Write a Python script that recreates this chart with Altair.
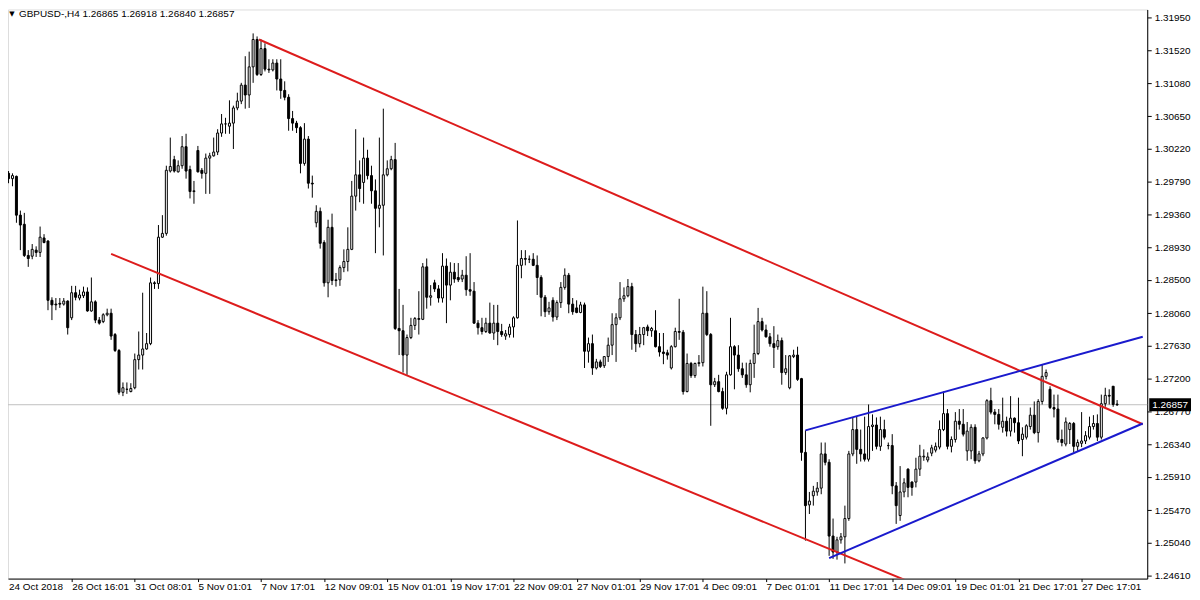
import altair as alt
import pandas as pd

# ---------------- data (GBPUSD H4) ----------------
opens = [
    1.2990, 1.2983, 1.2986, 1.2935, 1.2923, 1.2882, 1.2881, 1.2889, 1.2886, 1.2905,
    1.2901, 1.2823, 1.2818, 1.2819, 1.2818, 1.2822, 1.2800, 1.2833, 1.2826, 1.2829,
    1.2834, 1.2809, 1.2821, 1.2797, 1.2795, 1.2804, 1.2806, 1.2778, 1.2757, 1.2702,
    1.2706, 1.2703, 1.2708, 1.2745, 1.2751, 1.2759, 1.2766, 1.2846, 1.2845, 1.2906,
    1.2911, 1.2993, 1.3008, 1.2992, 1.3000, 1.3025, 1.2995, 1.2966, 1.3020, 1.2994,
    1.2990, 1.3010, 1.3013, 1.3018, 1.3043, 1.3055, 1.3052, 1.3056, 1.3076, 1.3085,
    1.3106, 1.3093, 1.3130, 1.3166, 1.3120, 1.3154, 1.3127, 1.3126, 1.3135, 1.3114,
    1.3099, 1.3090, 1.3062, 1.3056, 1.3050, 1.3003, 1.3035, 1.2977, 1.2925, 1.2940,
    1.2899, 1.2846, 1.2919, 1.2849, 1.2850, 1.2866, 1.2874, 1.2890, 1.2960, 1.2988,
    1.2978, 1.3010, 1.2987, 1.2967, 1.2944, 1.2948, 1.2988, 1.2996, 1.3008, 1.2786,
    1.2783, 1.2751, 1.2774, 1.2790, 1.2799, 1.2798, 1.2867, 1.2827, 1.2846, 1.2838,
    1.2826, 1.2868, 1.2843, 1.2860, 1.2853, 1.2851, 1.2856, 1.2837, 1.2835, 1.2793,
    1.2787, 1.2782, 1.2793, 1.2780, 1.2793, 1.2782, 1.2776, 1.2778, 1.2788, 1.2800,
    1.2869, 1.2878, 1.2877, 1.2877, 1.2869, 1.2853, 1.2827, 1.2808, 1.2823, 1.2801,
    1.2820, 1.2840, 1.2856, 1.2818, 1.2813, 1.2807, 1.2817, 1.2756, 1.2766, 1.2734,
    1.2742, 1.2737, 1.2749, 1.2764, 1.2791, 1.2800, 1.2825, 1.2829, 1.2841, 1.2778,
    1.2766, 1.2778, 1.2788, 1.2783, 1.2783, 1.2762, 1.2755, 1.2754, 1.2734, 1.2762,
    1.2782, 1.2781, 1.2703, 1.2740, 1.2724, 1.2740, 1.2741, 1.2806, 1.2778, 1.2712,
    1.2716, 1.2703, 1.2681, 1.2725, 1.2762, 1.2751, 1.2733, 1.2725, 1.2712, 1.2740,
    1.2753, 1.2795, 1.2784, 1.2775, 1.2766, 1.2762, 1.2770, 1.2728, 1.2708, 1.2749,
    1.2751, 1.2720, 1.2623, 1.2554, 1.2566, 1.2571, 1.2576, 1.2621, 1.2610, 1.2513,
    1.2492, 1.2508, 1.2512, 1.2536, 1.2621, 1.2653, 1.2627, 1.2621, 1.2614, 1.2657,
    1.2659, 1.2631, 1.2653, 1.2632, 1.2632, 1.2579, 1.2540, 1.2571, 1.2601, 1.2584,
    1.2584, 1.2601, 1.2617, 1.2613, 1.2622, 1.2626, 1.2630, 1.2653, 1.2674, 1.2631,
    1.2640, 1.2664, 1.2660, 1.2625, 1.2625, 1.2656, 1.2612, 1.2621, 1.2642, 1.2691,
    1.2676, 1.2673, 1.2656, 1.2664, 1.2651, 1.2668, 1.2662, 1.2640, 1.2643, 1.2657,
    1.2672, 1.2649, 1.2690, 1.2723, 1.2706, 1.2682, 1.2680, 1.2640, 1.2634, 1.2653,
    1.2661, 1.2631, 1.2635, 1.2638, 1.2643, 1.2657, 1.2661, 1.2643, 1.2687, 1.2698,
    1.2710, 1.26865,
]
highs = [
    1.2993, 1.2990, 1.2987, 1.2941, 1.2938, 1.2889, 1.2897, 1.2894, 1.2920, 1.2910,
    1.2902, 1.2827, 1.2826, 1.2826, 1.2826, 1.2823, 1.2842, 1.2842, 1.2837, 1.2841,
    1.2840, 1.2853, 1.2823, 1.2801, 1.2806, 1.2812, 1.2812, 1.2780, 1.2759, 1.2715,
    1.2715, 1.2714, 1.2753, 1.2782, 1.2833, 1.2780, 1.2853, 1.2848, 1.2922, 1.2935,
    1.3000, 1.3037, 1.3013, 1.3007, 1.3039, 1.3042, 1.3000, 1.2980, 1.3026, 1.2997,
    1.3016, 1.3017, 1.3037, 1.3048, 1.3068, 1.3063, 1.3086, 1.3079, 1.3096, 1.3109,
    1.3144, 1.3150, 1.3174, 1.3170, 1.3166, 1.3161, 1.3140, 1.3140, 1.3140, 1.3140,
    1.3111, 1.3094, 1.3072, 1.3059, 1.3052, 1.3056, 1.3039, 1.2987, 1.2948, 1.2945,
    1.2902, 1.2929, 1.2937, 1.2859, 1.2869, 1.2890, 1.2919, 1.2980, 1.3048, 1.3007,
    1.3037, 1.3021, 1.3000, 1.2982, 1.3037, 1.3075, 1.3007, 1.3013, 1.3030, 1.2838,
    1.2817, 1.2778, 1.2800, 1.2801, 1.2835, 1.2872, 1.2878, 1.2843, 1.2850, 1.2843,
    1.2885, 1.2878, 1.2873, 1.2872, 1.2872, 1.2863, 1.2881, 1.2885, 1.2847, 1.2797,
    1.2800, 1.2800, 1.2820, 1.2817, 1.2817, 1.2792, 1.2784, 1.2792, 1.2802, 1.2928,
    1.2889, 1.2889, 1.2882, 1.2885, 1.2882, 1.2856, 1.2830, 1.2821, 1.2827, 1.2823,
    1.2847, 1.2865, 1.2859, 1.2826, 1.2823, 1.2821, 1.2820, 1.2774, 1.2778, 1.2746,
    1.2745, 1.2749, 1.2774, 1.2806, 1.2806, 1.2847, 1.2840, 1.2851, 1.2846, 1.2784,
    1.2788, 1.2788, 1.2791, 1.2788, 1.2810, 1.2780, 1.2780, 1.2758, 1.2764, 1.2787,
    1.2825, 1.2784, 1.2753, 1.2742, 1.2741, 1.2751, 1.2841, 1.2835, 1.2780, 1.2721,
    1.2725, 1.2708, 1.2729, 1.2800, 1.2764, 1.2764, 1.2741, 1.2741, 1.2745, 1.2791,
    1.2813, 1.2800, 1.2791, 1.2780, 1.2789, 1.2778, 1.2774, 1.2751, 1.2751, 1.2758,
    1.2762, 1.2721, 1.2652, 1.2571, 1.2579, 1.2584, 1.2636, 1.2636, 1.2614, 1.2536,
    1.2512, 1.2517, 1.2553, 1.2625, 1.2669, 1.2670, 1.2653, 1.2670, 1.2686, 1.2673,
    1.2669, 1.2670, 1.2666, 1.2636, 1.2647, 1.2584, 1.2605, 1.2589, 1.2602, 1.2585,
    1.2616, 1.2633, 1.2627, 1.2623, 1.2633, 1.2636, 1.2665, 1.2703, 1.2680, 1.2644,
    1.2676, 1.2680, 1.2680, 1.2663, 1.2660, 1.2660, 1.2625, 1.2643, 1.2693, 1.2708,
    1.2680, 1.2680, 1.2695, 1.2670, 1.2697, 1.2669, 1.2695, 1.2656, 1.2660, 1.2682,
    1.2690, 1.2693, 1.2738, 1.2732, 1.2710, 1.2699, 1.2699, 1.2653, 1.2669, 1.2663,
    1.2663, 1.2640, 1.2676, 1.2651, 1.2670, 1.2672, 1.2673, 1.2699, 1.2708, 1.2706,
    1.2710, 1.26918,
]
lows = [
    1.2977, 1.2973, 1.2925, 1.2889, 1.2880, 1.2867, 1.2877, 1.2880, 1.2880, 1.2898,
    1.2810, 1.2797, 1.2810, 1.2813, 1.2816, 1.2778, 1.2797, 1.2823, 1.2823, 1.2826,
    1.2808, 1.2808, 1.2793, 1.2791, 1.2793, 1.2802, 1.2771, 1.2755, 1.2699, 1.2697,
    1.2700, 1.2702, 1.2706, 1.2732, 1.2732, 1.2758, 1.2764, 1.2838, 1.2838, 1.2905,
    1.2908, 1.2991, 1.2991, 1.2991, 1.2996, 1.2983, 1.2957, 1.2950, 1.2991, 1.2983,
    1.2963, 1.2963, 1.3012, 1.3014, 1.3038, 1.3042, 1.3042, 1.3022, 1.3073, 1.3081,
    1.3075, 1.3076, 1.3109, 1.3118, 1.3118, 1.3124, 1.3122, 1.3124, 1.3099, 1.3088,
    1.3086, 1.3046, 1.3046, 1.3043, 1.2990, 1.3000, 1.2970, 1.2958, 1.2919, 1.2891,
    1.2841, 1.2827, 1.2843, 1.2841, 1.2842, 1.2860, 1.2861, 1.2889, 1.2941, 1.2952,
    1.2950, 1.2982, 1.2950, 1.2885, 1.2919, 1.2882, 1.2986, 1.2994, 1.2784, 1.2751,
    1.2728, 1.2725, 1.2772, 1.2784, 1.2778, 1.2797, 1.2812, 1.2816, 1.2834, 1.2820,
    1.2820, 1.2793, 1.2823, 1.2846, 1.2847, 1.2847, 1.2829, 1.2829, 1.2792, 1.2778,
    1.2778, 1.2780, 1.2779, 1.2771, 1.2764, 1.2775, 1.2771, 1.2774, 1.2774, 1.2799,
    1.2852, 1.2869, 1.2872, 1.2868, 1.2830, 1.2802, 1.2801, 1.2804, 1.2795, 1.2797,
    1.2813, 1.2837, 1.2806, 1.2804, 1.2806, 1.2806, 1.2734, 1.2741, 1.2725, 1.2732,
    1.2734, 1.2734, 1.2742, 1.2751, 1.2742, 1.2797, 1.2821, 1.2827, 1.2758, 1.2755,
    1.2761, 1.2764, 1.2776, 1.2775, 1.2761, 1.2749, 1.2739, 1.2745, 1.2732, 1.2761,
    1.2771, 1.2699, 1.2702, 1.2721, 1.2721, 1.2736, 1.2736, 1.2776, 1.2658, 1.2709,
    1.2702, 1.2679, 1.2673, 1.2724, 1.2706, 1.2729, 1.2721, 1.2708, 1.2702, 1.2721,
    1.2751, 1.2782, 1.2774, 1.2762, 1.2734, 1.2758, 1.2712, 1.2725, 1.2706, 1.2747,
    1.2717, 1.2612, 1.2507, 1.2542, 1.2553, 1.2566, 1.2568, 1.2606, 1.2487, 1.2483,
    1.2482, 1.2503, 1.2477, 1.2533, 1.2618, 1.2608, 1.2611, 1.2611, 1.2611, 1.2625,
    1.2627, 1.2625, 1.2640, 1.2627, 1.2568, 1.2529, 1.2533, 1.2564, 1.2564, 1.2566,
    1.2577, 1.2592, 1.2612, 1.2610, 1.2618, 1.2623, 1.2627, 1.2651, 1.2627, 1.2623,
    1.2636, 1.2653, 1.2644, 1.2612, 1.2614, 1.2608, 1.2610, 1.2618, 1.2640, 1.2673,
    1.2660, 1.2653, 1.2649, 1.2644, 1.2644, 1.2649, 1.2634, 1.2618, 1.2640, 1.2653,
    1.2647, 1.2636, 1.2686, 1.2719, 1.2680, 1.2669, 1.2636, 1.2631, 1.2631, 1.2634,
    1.2623, 1.2625, 1.2630, 1.2634, 1.2640, 1.2653, 1.2638, 1.2640, 1.2683, 1.2686,
    1.2683, 1.26840,
]
closes = [
    1.2983, 1.2987, 1.2935, 1.2922, 1.2882, 1.2878, 1.2890, 1.2886, 1.2906, 1.2899,
    1.2823, 1.2817, 1.2817, 1.2818, 1.2822, 1.2787, 1.2833, 1.2827, 1.2830, 1.2834,
    1.2809, 1.2821, 1.2797, 1.2793, 1.2804, 1.2806, 1.2776, 1.2757, 1.2702, 1.2708,
    1.2706, 1.2707, 1.2745, 1.2751, 1.2759, 1.2766, 1.2846, 1.2845, 1.2906, 1.2911,
    1.2994, 1.2999, 1.2993, 1.3000, 1.3025, 1.2993, 1.2966, 1.2967, 1.2992, 1.2990,
    1.3010, 1.3013, 1.3018, 1.3043, 1.3055, 1.3055, 1.3056, 1.3076, 1.3085, 1.3106,
    1.3093, 1.3130, 1.3166, 1.3120, 1.3154, 1.3127, 1.3126, 1.3135, 1.3114, 1.3099,
    1.3090, 1.3062, 1.3056, 1.3050, 1.3003, 1.3035, 1.2977, 1.2976, 1.2940, 1.2898,
    1.2846, 1.2919, 1.2849, 1.2850, 1.2866, 1.2874, 1.2890, 1.2960, 1.2988, 1.2970,
    1.3010, 1.2987, 1.2967, 1.2944, 1.2948, 1.2988, 1.2996, 1.3008, 1.2786, 1.2783,
    1.2751, 1.2774, 1.2790, 1.2799, 1.2798, 1.2867, 1.2827, 1.2829, 1.2838, 1.2826,
    1.2868, 1.2843, 1.2860, 1.2851, 1.2850, 1.2856, 1.2837, 1.2835, 1.2793, 1.2787,
    1.2782, 1.2793, 1.2780, 1.2793, 1.2782, 1.2778, 1.2779, 1.2788, 1.2800, 1.2869,
    1.2878, 1.2877, 1.2877, 1.2869, 1.2853, 1.2827, 1.2808, 1.2813, 1.2801, 1.2820,
    1.2840, 1.2856, 1.2818, 1.2808, 1.2807, 1.2817, 1.2756, 1.2766, 1.2734, 1.2742,
    1.2736, 1.2749, 1.2764, 1.2791, 1.2800, 1.2825, 1.2829, 1.2841, 1.2778, 1.2766,
    1.2778, 1.2787, 1.2783, 1.2786, 1.2762, 1.2755, 1.2753, 1.2751, 1.2762, 1.2782,
    1.2781, 1.2703, 1.2740, 1.2724, 1.2740, 1.2741, 1.2806, 1.2778, 1.2712, 1.2716,
    1.2703, 1.2681, 1.2725, 1.2762, 1.2751, 1.2733, 1.2725, 1.2712, 1.2740, 1.2753,
    1.2795, 1.2784, 1.2775, 1.2766, 1.2761, 1.2770, 1.2728, 1.2733, 1.2750, 1.2751,
    1.2719, 1.2623, 1.2553, 1.2559, 1.2572, 1.2576, 1.2621, 1.2610, 1.2513, 1.2492,
    1.2508, 1.2512, 1.2536, 1.2621, 1.2653, 1.2627, 1.2621, 1.2614, 1.2657, 1.2659,
    1.2631, 1.2653, 1.2643, 1.2632, 1.2579, 1.2553, 1.2571, 1.2583, 1.2577, 1.2577,
    1.2601, 1.2618, 1.2618, 1.2617, 1.2629, 1.2631, 1.2653, 1.2674, 1.2631, 1.2640,
    1.2664, 1.2660, 1.2647, 1.2651, 1.2656, 1.2612, 1.2621, 1.2642, 1.2691, 1.2676,
    1.2673, 1.2660, 1.2664, 1.2651, 1.2668, 1.2662, 1.2638, 1.2647, 1.2658, 1.2672,
    1.2649, 1.2690, 1.2723, 1.2728, 1.2682, 1.2680, 1.2640, 1.2636, 1.2663, 1.2661,
    1.2631, 1.2636, 1.2638, 1.2645, 1.2657, 1.2661, 1.2643, 1.2687, 1.2698, 1.2697,
    1.2686, 1.26857,
]

label_bars = [0, 16, 32, 48, 64, 80, 96, 112, 128, 144, 160, 176, 192, 208, 224, 240, 256, 272]
date_labels = [
    "24 Oct 2018", "26 Oct 16:01", "31 Oct 08:01", "5 Nov 01:01", "7 Nov 17:01",
    "12 Nov 09:01", "15 Nov 01:01", "19 Nov 17:01", "22 Nov 09:01", "27 Nov 01:01",
    "29 Nov 17:01", "4 Dec 09:01", "7 Dec 01:01", "11 Dec 17:01", "14 Dec 09:01",
    "19 Dec 01:01", "21 Dec 17:01", "27 Dec 17:01",
]
price_ticks = [1.3195, 1.3152, 1.3108, 1.3065, 1.3022, 1.2979, 1.2936, 1.2893, 1.2850,
               1.2806, 1.2763, 1.2720, 1.2677, 1.2634, 1.2591, 1.2547, 1.2504, 1.2461]
last_price = 1.26857
header_text = "GBPUSD-,H4  1.26865 1.26918 1.26840 1.26857"

# trend lines (bar index, price)
line_names = ["red_upper", "red_upper", "red_lower", "red_lower",
              "blue_upper", "blue_upper", "blue_lower", "blue_lower"]
line_bars = [63.5, 287.5, 26, 240, 202, 287.5, 208, 287.5]
line_prices = [1.3166, 1.2660, 1.2884, 1.2428, 1.2652, 1.2775, 1.2484, 1.2661]

# ---------------- chart ----------------
FONT = "Tahoma, 'Liberation Sans', Arial, sans-serif"
W, H = 1145, 572

df = pd.DataFrame({"i": list(range(len(closes))), "open": opens, "high": highs,
                   "low": lows, "close": closes})
lines_df = pd.DataFrame({"line": line_names, "i": line_bars, "p": line_prices})

xs = alt.Scale(domain=[1.125, 287.375], nice=False, zero=False)
ys = alt.Scale(domain=[1.245706, 1.320547], nice=False, zero=False)

label_expr = "[" + ",".join("'%s'" % s for s in date_labels) + "][round(datum.value/16)]"

xaxis = alt.Axis(values=label_bars[1:], labelExpr=label_expr, title=None, grid=False,
                 tickCount=100, tickSize=3, tickColor="black", domainColor="black",
                 domainWidth=1, labelAlign="left", labelBaseline="top", labelPadding=0,
                 labelFont=FONT, labelFontSize=10, labelColor="black",
                 labelOverlap=False, labelFlush=False)
yaxis = alt.Axis(orient="right", values=price_ticks, format=".5f", title=None, grid=False,
                 tickCount=100, tickSize=4, tickColor="black", domainColor="black",
                 domainWidth=1, labelAlign="left", labelBaseline="middle", labelPadding=3,
                 labelFont=FONT, labelFontSize=10, labelColor="black",
                 labelOverlap=False, labelFlush=False)

price_line = alt.Chart(pd.DataFrame({"p": [last_price]})).mark_rule(
    color="#c0c0c0", strokeWidth=1).encode(y=alt.Y("p:Q", scale=ys, axis=yaxis))

wicks = alt.Chart(df).mark_rule(color="black", strokeWidth=1).encode(
    x=alt.X("i:Q", scale=xs, axis=xaxis),
    y=alt.Y("low:Q", scale=ys, axis=yaxis),
    y2="high:Q",
)

bodies = alt.Chart(df).mark_bar(size=2, stroke="black", strokeWidth=1).encode(
    x=alt.X("i:Q", scale=xs),
    y=alt.Y("open:Q", scale=ys),
    y2="close:Q",
    fill=alt.condition("datum.close < datum.open", alt.value("black"), alt.value("white")),
)

trend = alt.Chart(lines_df).mark_line(strokeWidth=2, clip=True).encode(
    x=alt.X("i:Q", scale=xs),
    y=alt.Y("p:Q", scale=ys),
    detail="line:N",
    color=alt.Color("line:N", legend=None,
                    scale=alt.Scale(domain=["red_upper", "red_lower", "blue_upper", "blue_lower"],
                                    range=["#dd1c1c", "#dd1c1c", "#1a1acd", "#1a1acd"])),
)

price_box = alt.Chart(pd.DataFrame({"p": [last_price]})).mark_tick(
    color="black", size=42, thickness=13, orient="horizontal", opacity=1).encode(
    y=alt.Y("p:Q", scale=ys), x=alt.value(1168))

price_box_text = alt.Chart(pd.DataFrame({"p": [last_price], "t": ["1.26857"]})).mark_text(
    color="white", font=FONT, fontSize=10, align="center", baseline="middle").encode(
    y=alt.Y("p:Q", scale=ys), x=alt.value(1168), text="t:N")

first_date = alt.Chart(pd.DataFrame({"t": [date_labels[0]]})).mark_text(
    color="black", font=FONT, fontSize=10, align="left", baseline="top").encode(
    x=alt.value(1), y=alt.value(H + 3), text="t:N")

header = alt.Chart(pd.DataFrame({"t": [header_text]})).mark_text(
    color="black", font=FONT, fontSize=10, align="left", baseline="middle").encode(
    x=alt.value(11), y=alt.value(5), text="t:N")

triangle = alt.Chart(pd.DataFrame({"t": ["\u25bc"]})).mark_text(
    color="black", font="'DejaVu Sans'", fontSize=7, align="center", baseline="middle").encode(
    x=alt.value(4), y=alt.value(5), text="t:N")

chart = alt.layer(
    price_line, wicks, bodies, trend, price_box, price_box_text, first_date, header, triangle
).properties(
    width=W, height=H,
    padding={"left": 0, "top": 0, "right": 45, "bottom": 12},
    autosize=alt.AutoSizeParams(type="none"),
).configure_view(stroke=None).configure(background="white")

chart.save("out.html", embed_options={"renderer": "svg", "actions": False})
